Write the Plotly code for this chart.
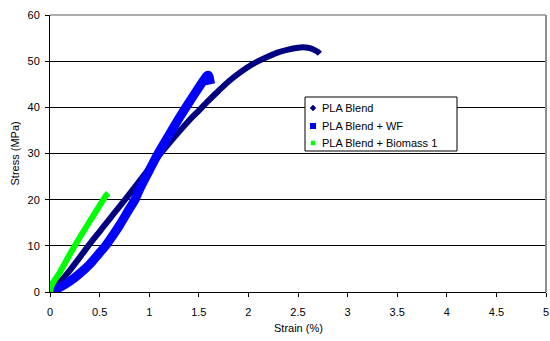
import plotly.graph_objects as go

# PLA Blend
pla_strain = [0, 0.05, 0.1, 0.2, 0.3, 0.386, 0.5, 0.6, 0.7, 0.756, 0.8, 0.9, 1.0, 1.1, 1.2, 1.3, 1.4,
              1.5, 1.6, 1.7, 1.8, 1.9, 2.0, 2.1, 2.2, 2.3, 2.4, 2.5, 2.55, 2.6, 2.65, 2.7, 2.72]
pla_stress = [0, 0.9, 2.1, 4.7, 7.5, 10.0, 13.1, 15.8, 18.5, 20.0, 21.2, 24.0, 26.8, 29.6, 32.2, 34.7, 37.1,
              39.3, 41.5, 43.6, 45.6, 47.3, 48.8, 50.0, 51.0, 51.9, 52.5, 52.9, 53.0, 52.9, 52.6, 52.0, 51.6]

# PLA Blend + WF
wf_strain = [0, 0.05, 0.1, 0.2, 0.3, 0.4, 0.5, 0.56, 0.6, 0.7, 0.8, 0.857, 0.9, 1.0, 1.09, 1.2, 1.3,
             1.4, 1.5, 1.55, 1.58, 1.6, 1.61, 1.62]
wf_stress = [0, 0.5, 1.0, 2.3, 4.0, 6.0, 8.5, 10.0, 11.2, 14.4, 18.0, 20.0, 22.1, 26.3, 30.0, 34.0, 37.6,
             41.0, 44.3, 45.9, 46.8, 46.9, 46.0, 45.0]

# PLA Blend + Biomass 1
bio_strain = [0, 0.01, 0.03, 0.06, 0.1, 0.2, 0.25, 0.3, 0.4, 0.5, 0.537, 0.565, 0.588]
bio_stress = [0, 1.0, 2.0, 3.0, 4.3, 8.2, 10.0, 11.8, 15.3, 18.7, 20.0, 20.9, 21.4]

series_names = ["PLA Blend", "PLA Blend + WF", "PLA Blend + Biomass 1"]
series_x = [pla_strain, wf_strain, bio_strain]
series_y = [pla_stress, wf_stress, bio_stress]
colors = ["#000080", "#0000FF", "#00FF00"]
widths = [6, 9, 6]

x_ticks = [0, 0.5, 1, 1.5, 2, 2.5, 3, 3.5, 4, 4.5, 5]
y_ticks = [0, 10, 20, 30, 40, 50, 60]

# plot-area geometry in pixels (for legend placement)
L, R, T, B = 50, 546, 15, 292
W, H = R - L, B - T
def px(x):
    return (x - L) / W
def py(y):
    return (B - y) / H

fig = go.Figure()
for name, xs, ys, color, width in zip(series_names, series_x, series_y, colors, widths):
    fig.add_trace(go.Scatter(x=xs, y=ys, mode="lines", name=name, showlegend=False,
                             line=dict(color=color, width=width, shape="spline", smoothing=0.8),
                             hoverinfo="skip"))

font = dict(family="Liberation Sans, Arial, sans-serif", size=11, color="black")
fig.update_layout(
    width=550, height=341,
    margin=dict(l=L, r=550 - R, t=T, b=341 - B),
    paper_bgcolor="white", plot_bgcolor="white",
    font=font, showlegend=False,
    xaxis=dict(range=[0, 5], tickvals=x_ticks, ticktext=[str(t) for t in x_ticks],
               showgrid=False, zeroline=False, showline=True, linecolor="black", linewidth=1,
               ticks="outside", ticklen=4, tickcolor="black", automargin=False,
               ticklabelstandoff=6, tickfont=font),
    yaxis=dict(range=[0, 60], tickvals=y_ticks, showgrid=True, gridcolor="black", gridwidth=1,
               zeroline=False, showline=True, linecolor="black", linewidth=1,
               ticks="outside", ticklen=4, tickcolor="black", automargin=False,
               ticklabelstandoff=3, tickfont=font),
)

# axis titles
fig.add_annotation(text="Stress (MPa)", xref="paper", yref="paper", x=px(14), y=0.5,
                   textangle=-90, showarrow=False, font=font, xanchor="center", yanchor="middle")
fig.add_annotation(text="Strain (%)", xref="paper", yref="paper", x=px(298), y=py(328),
                   showarrow=False, font=font, xanchor="center", yanchor="middle")

# plot-area border (grey top and right)
fig.add_shape(type="line", xref="paper", yref="paper", x0=0, x1=1, y0=1, y1=1,
              line=dict(color="#909090", width=1.5), layer="above")
fig.add_shape(type="line", xref="paper", yref="paper", x0=1, x1=1, y0=0, y1=1,
              line=dict(color="#909090", width=2), layer="above")

# legend box
fig.add_shape(type="rect", xref="paper", yref="paper", x0=px(305), x1=px(457), y0=py(151), y1=py(97),
              line=dict(color="black", width=1), fillcolor="white", layer="above")
rows_y = [108, 126, 143]
sym_x = 313
for i, (name, color) in enumerate(zip(series_names, colors)):
    cy = rows_y[i]
    if i == 0:
        fig.add_shape(type="path", xref="paper", yref="paper", xsizemode="pixel", ysizemode="pixel",
                      xanchor=px(sym_x), yanchor=py(cy),
                      path="M -3 0 L 0 3 L 3 0 L 0 -3 Z",
                      line=dict(color=color, width=0.5), fillcolor=color, layer="above")
    else:
        s = 3 if i == 1 else 2.2
        fig.add_shape(type="rect", xref="paper", yref="paper", xsizemode="pixel", ysizemode="pixel",
                      xanchor=px(sym_x), yanchor=py(cy), x0=-s, x1=s, y0=-s, y1=s,
                      line=dict(color=color, width=0), fillcolor=color, layer="above")
    fig.add_annotation(text=name, xref="paper", yref="paper", x=px(319.5), y=py(cy),
                       xanchor="left", yanchor="middle", showarrow=False, font=font)

fig.write_html("out.html", config={"displayModeBar": False},
               post_script="document.body.style.margin='0px';")
